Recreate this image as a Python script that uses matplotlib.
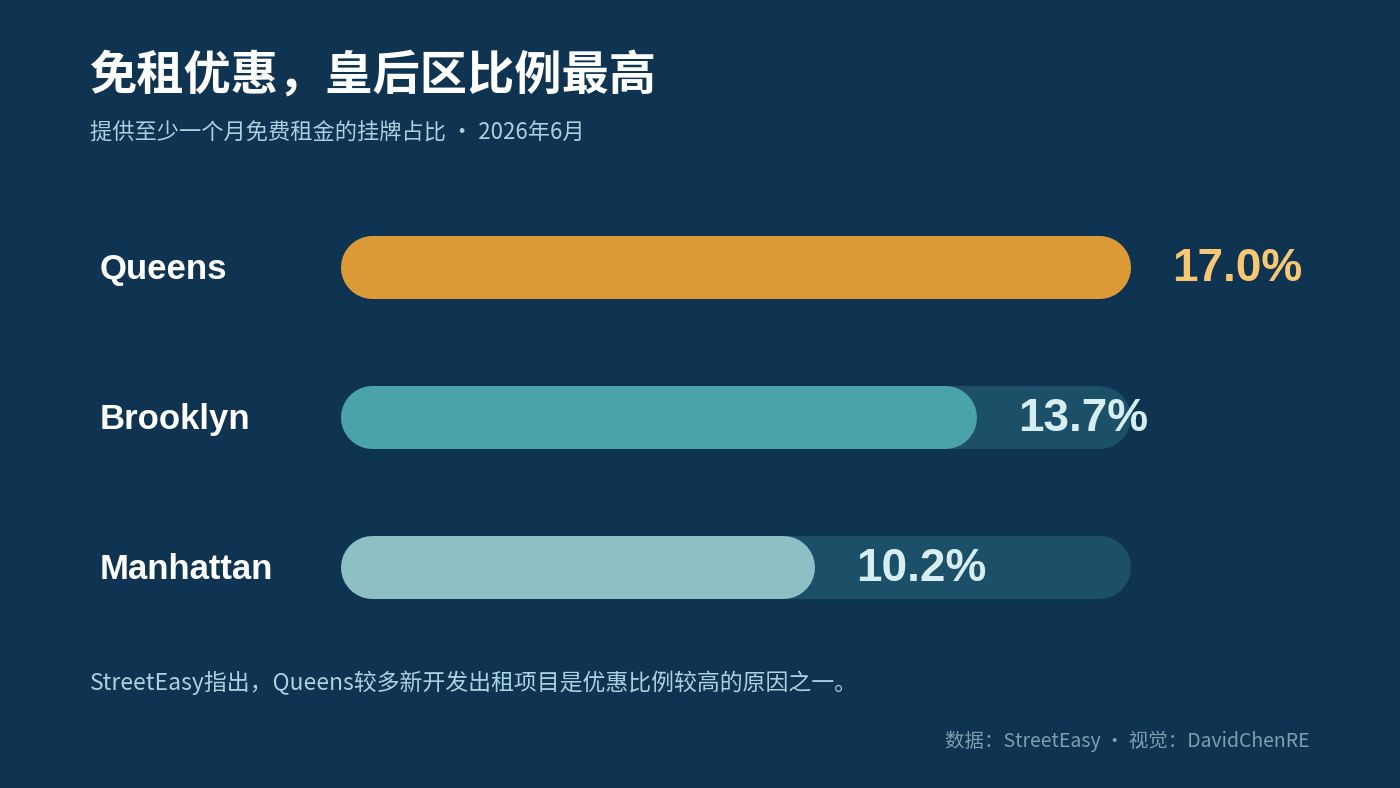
import matplotlib
matplotlib.use("Agg")
import matplotlib.pyplot as plt

plt.rcParams['font.family'] = ['Noto Sans CJK SC', 'DejaVu Sans']

boroughs = ["Queens", "Brooklyn", "Manhattan"]
shares = [17.0, 13.7, 10.2]
bar_colors = ["#db9a35", "#4ba3aa", "#8dbfc4"]
label_colors = ["#f7c873", "#d6eef2", "#d6eef2"]
track_max = 17.0

W, H = 1400, 788
bg = "#0f3451"
fig = plt.figure(figsize=(W / 100, H / 100), dpi=100, facecolor=bg)

def px(x, y):
    return x / W, 1 - y / H

# bar axes: round caps add half the line width at both ends
bar_h = 63
cap = bar_h / 2
track_px = 790
top = 267 - 0.35 * 150
ax = fig.add_axes([(340 + cap) / W, 1 - (top + 450) / H, (track_px - 2 * cap) / W, 450 / H])
ax.set_facecolor(bg)
ax.set_xlim(0, track_max)
ax.set_ylim(2.65, -0.35)
ax.axis("off")
lw = bar_h * 0.72

def cap_adjust(v):
    # so that the rounded end sits where v would end on the full track
    return (track_px * v / track_max - 2 * cap) / (track_px - 2 * cap) * track_max

for i, (name, v) in enumerate(zip(boroughs, shares)):
    ax.plot([0, track_max], [i, i], color="#1b5068", lw=lw, solid_capstyle="round", clip_on=False)
    end = cap_adjust(v)
    ax.plot([0, end], [i, i], color=bar_colors[i], lw=lw, solid_capstyle="round", clip_on=False)
    ax.annotate(f"{v:.1f}%", (end, i), xytext=(cap * 0.72 + 30, -1.5), textcoords="offset points",
                ha="left", va="center", fontsize=33, fontweight="bold",
                color=label_colors[i], family=["Liberation Sans", "DejaVu Sans"])
    ax.annotate(name, (0, i), xytext=(-(340 + cap - 100) * 0.72, -1.5), textcoords="offset points",
                ha="left", va="center", fontsize=25, fontweight="bold",
                color="white", family=["Liberation Sans", "DejaVu Sans"])

fig.text(*px(90, 76), "免租优惠，皇后区比例最高", fontsize=34, fontweight="bold",
         color="white", va="center")
fig.text(*px(90, 133), "提供至少一个月免费租金的挂牌占比 · 2026年6月", fontsize=16,
         color="#a9d3e0", va="center")
fig.text(*px(90, 683), "StreetEasy指出，Queens较多新开发出租项目是优惠比例较高的原因之一。",
         fontsize=16.5, color="#a9d3e0", va="center")
fig.text(*px(1310, 741), "数据：StreetEasy · 视觉：DavidChenRE", fontsize=14,
         color="#7f9fb0", va="center", ha="right")

fig.savefig("out.png", dpi=100, facecolor=bg)
